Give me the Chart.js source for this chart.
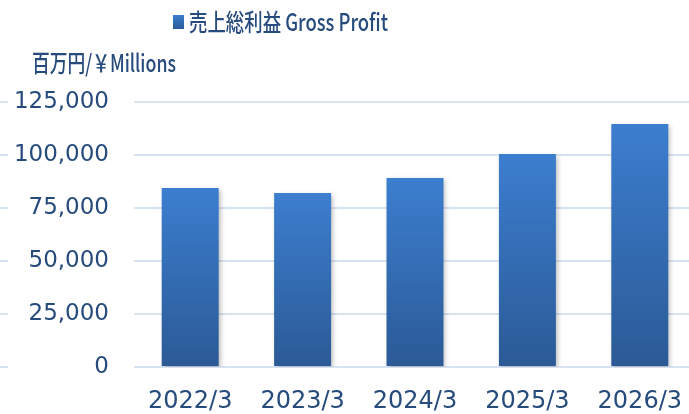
<!DOCTYPE html>
<html>
<head>
<meta charset="utf-8">
<script src="https://cdn.jsdelivr.net/npm/chart.js@4"></script>
<style>
  html, body { margin: 0; padding: 0; overflow: hidden; background: #fff; }
  canvas { display: block; }
</style>
</head>
<body>
<canvas id="chart" width="696" height="414"></canvas>
<script>
// data
const years = ['2022/3', '2023/3', '2024/3', '2025/3', '2026/3'];
const grossProfit = [84400, 82100, 89100, 100500, 114600];
const yTicks = [0, 25000, 50000, 75000, 100000, 125000];
const legendText = '売上総利益 Gross Profit';
const unitText = '百万円/￥Millions';

const textColor = '#264b7c';
const gridColor = '#d8e3f2';

let barGradient = (ctx) => {
  const chart = ctx.chart;
  if (!chart.chartArea || ctx.raw === undefined) return '#3470b8';
  const y = chart.scales.y;
  const top = y.getPixelForValue(ctx.raw);
  const bottom = y.getPixelForValue(0);
  const g = chart.ctx.createLinearGradient(0, top, 0, bottom);
  g.addColorStop(0, '#3c7ecf');
  g.addColorStop(1, '#2b5a96');
  return g;
};

// draw a squeezed text so it fits a given width
let squeezeText = (c, text, x, baseline, width) => {
  const w = c.measureText(text).width;
  c.save();
  c.translate(x, baseline);
  c.scale(width / w, 1);
  c.fillText(text, 0, 0);
  c.restore();
};

const extras = {
  id: 'extras',
  beforeDatasetsDraw(chart) {
    const c = chart.ctx;
    c.save();
    c.shadowColor = 'rgba(0,0,0,0.28)';
    c.shadowBlur = 5;
    c.shadowOffsetX = 2;
    c.shadowOffsetY = 2;
  },
  afterDatasetsDraw(chart) {
    chart.ctx.restore();
  },
  afterDraw(chart) {
    const c = chart.ctx;
    const y = chart.scales.y;
    c.save();
    // small marks at the far left
    c.strokeStyle = gridColor;
    c.lineWidth = 2;
    yTicks.forEach(v => {
      const py = Math.round(y.getPixelForValue(v));
      c.beginPath();
      c.moveTo(0, py);
      c.lineTo(8, py);
      c.stroke();
    });
    // legend
    const g = c.createLinearGradient(0, 15, 0, 29);
    g.addColorStop(0, '#3c7ecf');
    g.addColorStop(1, '#2b5a96');
    c.fillStyle = g;
    c.fillRect(173, 15, 11, 14);
    c.fillStyle = textColor;
    c.textBaseline = 'alphabetic';
    c.font = '500 24px "Noto Sans CJK JP", sans-serif';
    squeezeText(c, legendText, 189, 31, 199);
    // unit label
    squeezeText(c, unitText, 32, 72, 144);
    c.restore();
  }
};

new Chart(document.getElementById('chart'), {
  type: 'bar',
  data: {
    labels: years,
    datasets: [{
      label: legendText,
      data: grossProfit,
      backgroundColor: barGradient,
      borderWidth: 0,
      barPercentage: 0.507,
      categoryPercentage: 1
    }]
  },
  options: {
    responsive: false,
    animation: false,
    layout: { padding: { top: 102, left: 0, right: 0, bottom: 0 } },
    plugins: {
      legend: { display: false },
      tooltip: { enabled: false }
    },
    scales: {
      x: {
        grid: { display: false, drawTicks: false },
        border: { display: false },
        ticks: {
          color: textColor,
          font: { family: '"DejaVu Sans"', size: 24 },
          padding: 20,
          maxRotation: 0
        },
        afterFit: (s) => {
          s.height = 47;
          s.paddingLeft = 0;
          s.paddingRight = 0;
        }
      },
      y: {
        min: 0,
        max: 125000,
        grid: { color: gridColor, lineWidth: 2, drawTicks: false },
        border: { display: false },
        ticks: {
          stepSize: 25000,
          color: textColor,
          font: { family: '"DejaVu Sans"', size: 23 },
          padding: 25,
          callback: (v) => v.toLocaleString('en-US')
        },
        afterFit: (s) => { s.width = 134; }
      }
    }
  },
  plugins: [extras]
});
</script>
</body>
</html>
